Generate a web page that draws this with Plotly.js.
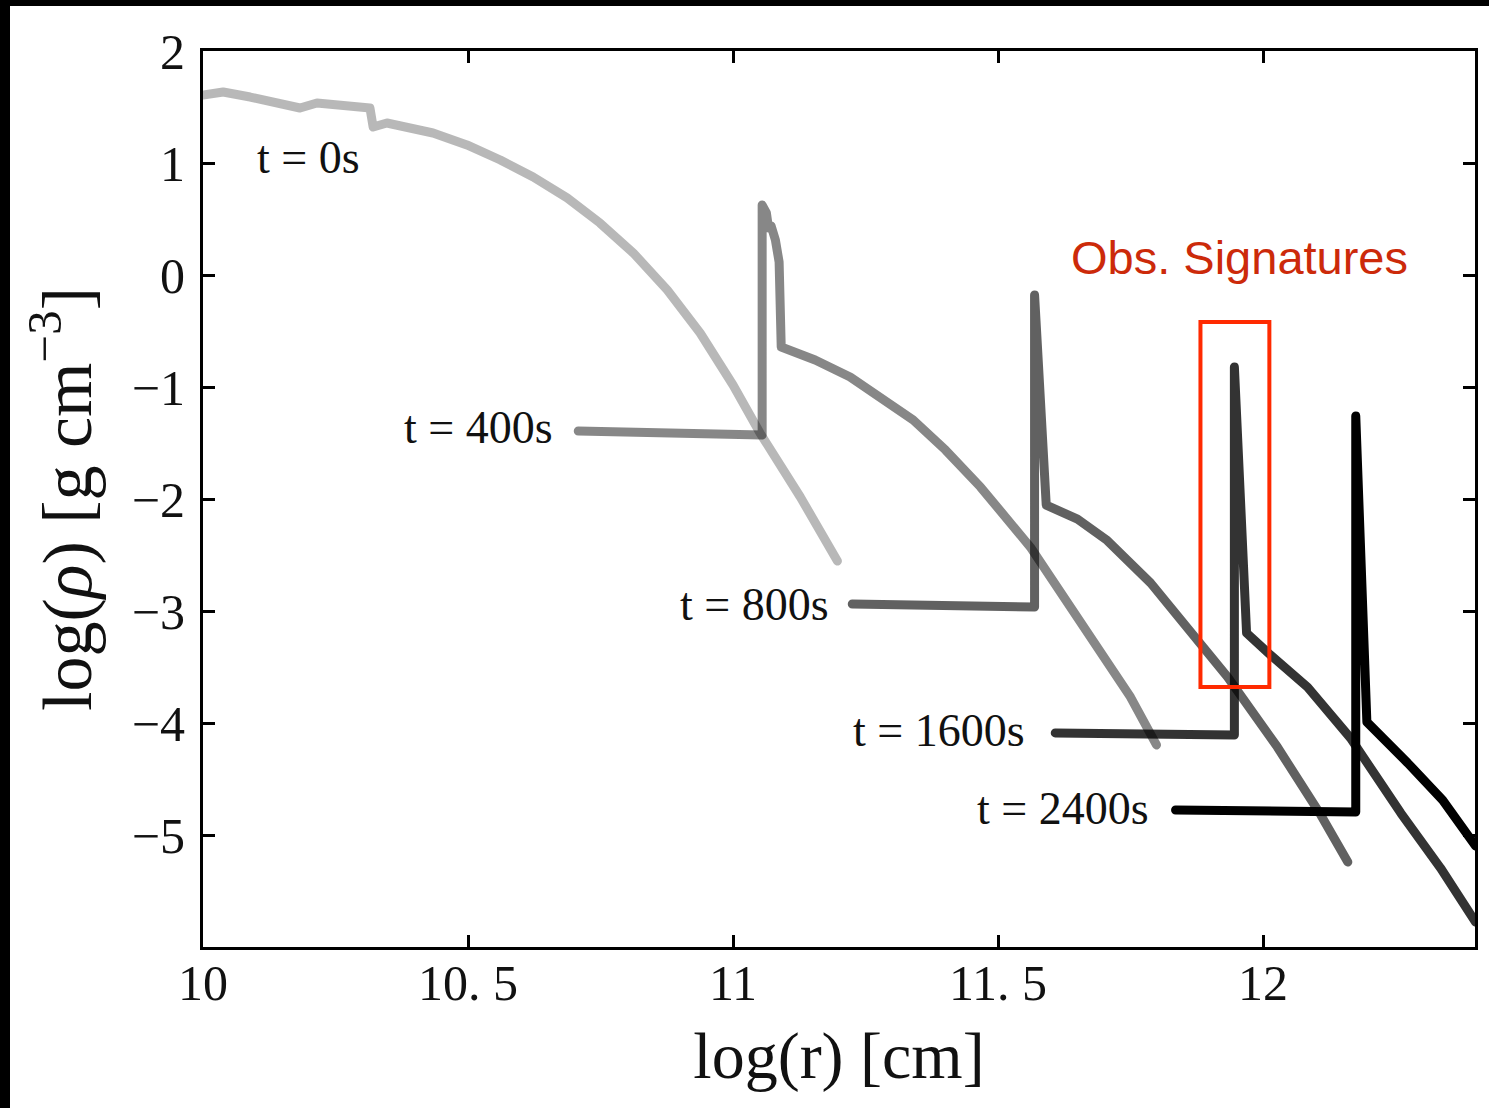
<!DOCTYPE html>
<html>
<head>
<meta charset="utf-8">
<script src="https://cdn.plot.ly/plotly-3.0.1.min.js"></script>
<style>
  html, body { margin: 0; padding: 0; background: #000; width: 1489px; height: 1108px; overflow: hidden; }
  #chart { position: absolute; left: 10px; top: 6px; width: 1479px; height: 1102px; background: #fff; }
  path.js-line { stroke-linejoin: round; stroke-linecap: round; }
</style>
</head>
<body>
<div id="chart"></div>
<script>
// log(r) [cm] and log(rho) [g cm^-3]
const t0_x = [10.000, 10.038, 10.089, 10.183, 10.215, 10.268, 10.315, 10.321, 10.347, 10.434, 10.498, 10.561, 10.623, 10.687, 10.749, 10.812, 10.876, 10.938, 11.000, 11.051, 11.127, 11.197];
const t0_y = [1.607, 1.634, 1.589, 1.491, 1.536, 1.518, 1.491, 1.321, 1.357, 1.268, 1.161, 1.027, 0.875, 0.688, 0.464, 0.196, -0.134, -0.518, -0.982, -1.411, -1.982, -2.554];

const t400_x = [10.708, 11.055, 11.055, 11.063, 11.067, 11.072, 11.080, 11.087, 11.091, 11.155, 11.221, 11.278, 11.340, 11.401, 11.467, 11.561, 11.655, 11.750, 11.799];
const t400_y = [-1.393, -1.429, 0.625, 0.554, 0.420, 0.438, 0.313, 0.116, -0.643, -0.759, -0.911, -1.089, -1.295, -1.563, -1.893, -2.429, -3.080, -3.768, -4.196];

const t800_x = [11.225, 11.569, 11.569, 11.584, 11.591, 11.650, 11.706, 11.788, 11.888, 11.933, 12.027, 12.109, 12.160];
const t800_y = [-2.938, -2.964, -0.179, -1.295, -2.054, -2.180, -2.370, -2.750, -3.348, -3.589, -4.214, -4.821, -5.241];

const t1600_x = [11.608, 11.946, 11.946, 11.958, 11.969, 12.014, 12.084, 12.165, 12.260, 12.335, 12.401];
const t1600_y = [-4.089, -4.107, -0.821, -2.009, -3.196, -3.393, -3.679, -4.134, -4.804, -5.295, -5.777];

const t2400_x = [11.835, 12.175, 12.175, 12.185, 12.196, 12.273, 12.339, 12.401];
const t2400_y = [-4.777, -4.795, -1.259, -2.545, -3.991, -4.357, -4.688, -5.098];

const seriesNames = ["t = 0s", "t = 400s", "t = 800s", "t = 1600s", "t = 2400s"];
const seriesColors = ["rgba(0,0,0,0.28)", "rgba(0,0,0,0.47)", "rgba(0,0,0,0.62)", "rgba(0,0,0,0.80)", "rgba(0,0,0,1)"];

const xTickVals = [10, 10.5, 11, 11.5, 12];
const xTickText = ["10", "10. 5", "11", "11. 5", "12"];
const yTickVals = [2, 1, 0, -1, -2, -3, -4, -5];
const yTickText = ["2", "1", "0", "\u22121", "\u22122", "\u22123", "\u22124", "\u22125"];

const xs = [t0_x, t400_x, t800_x, t1600_x, t2400_x];
const ys = [t0_y, t400_y, t800_y, t1600_y, t2400_y];

const traces = xs.map((x, i) => ({
  x: x, y: ys[i], type: "scatter", mode: "lines", name: seriesNames[i],
  line: { color: seriesColors[i], width: 9 }, hoverinfo: "skip"
}));

const serif = "Liberation Serif, Times New Roman, serif";
const labelFont = { family: serif, size: 46, color: "#111" };

// label anchor positions (right end of each label)
const labelX = [10.300, 10.664, 11.185, 11.555, 11.788];
const labelY = [1.045, -1.366, -2.938, -4.071, -4.759];

const annotations = seriesNames.map((s, i) => ({
  x: labelX[i], y: labelY[i], xref: "x", yref: "y", text: s, showarrow: false,
  xanchor: "right", yanchor: "middle", font: labelFont
}));
annotations.push({
  x: 11.956, y: 0.152, xref: "x", yref: "y", text: "Obs. Signatures", showarrow: false,
  xanchor: "center", yanchor: "middle",
  font: { family: "Liberation Sans, Arial, sans-serif", size: 47, color: "#cc2a0a" }
});

const layout = {
  width: 1479, height: 1102,
  margin: { l: 193, r: 14, t: 45, b: 161 },
  paper_bgcolor: "#ffffff", plot_bgcolor: "#ffffff",
  showlegend: false,
  xaxis: {
    range: [10, 12.4], tickvals: xTickVals, ticktext: xTickText,
    ticks: "inside", ticklen: 12, tickwidth: 3, tickcolor: "#000",
    showline: true, linewidth: 3, linecolor: "#000", mirror: "ticks",
    showgrid: false, zeroline: false, ticklabelstandoff: -10,
    tickfont: { family: serif, size: 50, color: "#111" },
    title: { text: "log(r) [cm]", font: { family: serif, size: 66, color: "#111" }, standoff: 22 }
  },
  yaxis: {
    range: [-6, 2], tickvals: yTickVals, ticktext: yTickText,
    ticks: "inside", ticklen: 12, tickwidth: 3, tickcolor: "#000",
    showline: true, linewidth: 3, linecolor: "#000", mirror: "ticks",
    showgrid: false, zeroline: false, ticklabelstandoff: 5,
    tickfont: { family: serif, size: 50, color: "#111" },
    title: { text: "log(<i>ρ</i>) [g cm<sup>\u22123</sup>]", font: { family: serif, size: 70, color: "#111" }, standoff: 18 }
  },
  annotations: annotations,
  shapes: [{
    type: "rect", xref: "x", yref: "y", x0: 11.882, x1: 12.012, y0: -0.420, y1: -3.679,
    line: { color: "#ff2a00", width: 4 }, fillcolor: "rgba(0,0,0,0)"
  }]
};

Plotly.newPlot("chart", traces, layout, { staticPlot: true, displayModeBar: false });
</script>
</body>
</html>
